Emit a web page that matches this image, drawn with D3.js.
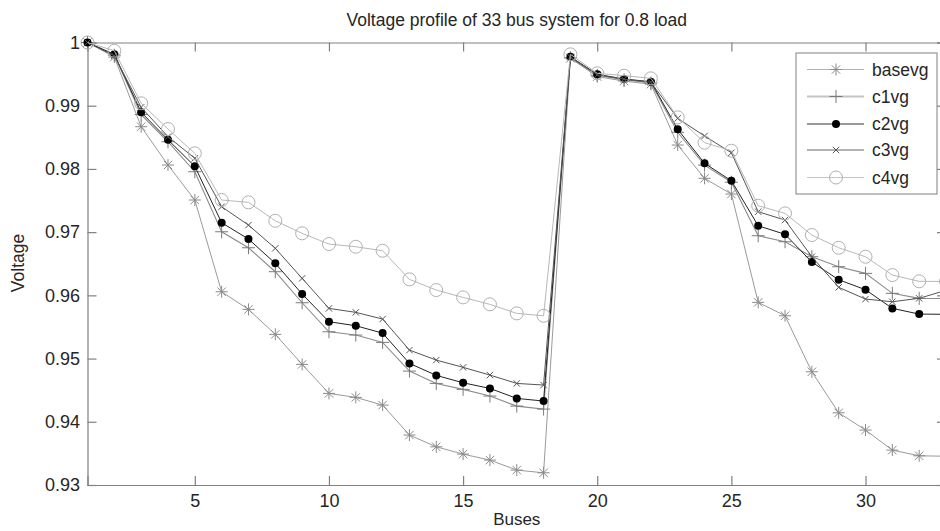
<!DOCTYPE html>
<html>
<head>
<meta charset="utf-8">
<script src="https://cdn.jsdelivr.net/npm/d3@7"></script>
<style>
  body { margin: 0; background: #fff; }
  svg { display: block; font-family: "Liberation Sans", Arial, Helvetica, sans-serif; }
</style>
</head>
<body>
<svg id="chart" width="940" height="531"></svg>
<script>
const buses = d3.range(1, 34);
const basevg = [1.0, 0.9977, 0.98668, 0.98062, 0.97508, 0.96057, 0.95778, 0.95383, 0.94908, 0.94449, 0.94386, 0.94264, 0.9379, 0.93604, 0.93489, 0.93394, 0.93236, 0.93193, 0.9975, 0.9946, 0.9939, 0.9934, 0.98378, 0.97851, 0.97603, 0.95889, 0.95677, 0.94791, 0.94142, 0.93869, 0.93552, 0.93462, 0.93455];
const c1vg = [1.0, 0.9980, 0.9886, 0.9843, 0.97956, 0.97006, 0.96753, 0.96374, 0.95883, 0.95424, 0.95372, 0.95256, 0.94802, 0.94607, 0.94513, 0.94407, 0.94248, 0.94201, 0.9976, 0.9948, 0.9941, 0.9936, 0.9858, 0.9806, 0.9779, 0.96943, 0.96848, 0.96611, 0.96453, 0.96348, 0.96032, 0.95953, 0.9595];
const c2vg = [1.0, 0.99813, 0.98896, 0.98462, 0.98041, 0.97149, 0.96891, 0.96506, 0.96021, 0.95583, 0.95519, 0.95403, 0.94924, 0.94734, 0.94617, 0.94528, 0.9437, 0.94328, 0.99775, 0.99497, 0.99422, 0.9938, 0.98626, 0.98089, 0.97813, 0.97101, 0.96965, 0.96527, 0.96247, 0.96089, 0.95794, 0.95704, 0.957];
const c3vg = [1.0, 0.9979, 0.98975, 0.9851, 0.98168, 0.97402, 0.97112, 0.96744, 0.96269, 0.95794, 0.95731, 0.95625, 0.95134, 0.94976, 0.94861, 0.94739, 0.94607, 0.94581, 0.9977, 0.9949, 0.9942, 0.9937, 0.988, 0.98521, 0.98256, 0.97323, 0.97191, 0.96611, 0.96127, 0.95941, 0.95899, 0.95953, 0.9608];
const c4vg = [1.0, 0.9987, 0.99038, 0.98631, 0.98247, 0.97508, 0.97471, 0.9718, 0.96981, 0.96812, 0.96769, 0.96706, 0.96253, 0.96084, 0.95968, 0.95858, 0.95715, 0.95677, 0.99813, 0.99513, 0.99475, 0.99433, 0.98816, 0.98415, 0.98288, 0.97418, 0.97297, 0.96954, 0.96753, 0.96611, 0.96321, 0.96222, 0.9622];
const seriesNames = ["basevg", "c1vg", "c2vg", "c3vg", "c4vg"];
const xTicks = [5, 10, 15, 20, 25, 30];
const yTicks = [0.93, 0.94, 0.95, 0.96, 0.97, 0.98, 0.99, 1];
const yTickLabels = ["0.93", "0.94", "0.95", "0.96", "0.97", "0.98", "0.99", "1"];

const styles = {
  basevg: { color: "#9a9a9a", width: 1, marker: "asterisk", mcolor: "#8a8a8a", legColor: "#b0b0b0", legWidth: 1 },
  c1vg:   { color: "#8c8c8c", width: 1.1, marker: "plus", mcolor: "#7a7a7a", legColor: "#c4c4c4", legWidth: 2.2 },
  c2vg:   { color: "#222", width: 1, marker: "dot", mcolor: "#000", legColor: "#333", legWidth: 1 },
  c3vg:   { color: "#555", width: 1, marker: "x", mcolor: "#555", legColor: "#666", legWidth: 1 },
  c4vg:   { color: "#b8b8b8", width: 1, marker: "circle", mcolor: "#b0b0b0", legColor: "#c4c4c4", legWidth: 1 }
};
const dataMap = { basevg, c1vg, c2vg, c3vg, c4vg };

const svg = d3.select("#chart");
const L = 87.5, R = 946, T = 42.5, B = 485;
const x = d3.scaleLinear().domain([1, 33]).range([L, R]);
const y = d3.scaleLinear().domain([0.93, 1]).range([B, T]);

const axisColor = "#808080";
const tickLen = 9;
const textColor = "#262626";
const fontFam = "'Liberation Sans', Arial, sans-serif";

// Axes
const gx = svg.append("g").attr("transform", `translate(0,${B})`)
  .call(d3.axisBottom(x).tickValues(xTicks).tickSize(-tickLen).tickPadding(9).tickFormat(d3.format("d")));
const gxt = svg.append("g").attr("transform", `translate(0,${T})`)
  .call(d3.axisTop(x).tickValues(xTicks).tickSize(-tickLen).tickFormat(""));
const gy = svg.append("g").attr("transform", `translate(${L},0)`)
  .call(d3.axisLeft(y).tickValues(yTicks).tickSize(-tickLen).tickPadding(7.5).tickFormat((d, i) => yTickLabels[i]));
const gyr = svg.append("g").attr("transform", `translate(${R},0)`)
  .call(d3.axisRight(y).tickValues(yTicks).tickSize(-tickLen).tickFormat(""));
[gx, gxt, gy, gyr].forEach(g => {
  g.select(".domain").attr("stroke", axisColor).attr("stroke-width", 1.2);
  g.selectAll(".tick line").attr("stroke", axisColor).attr("stroke-width", 1.2);
  g.selectAll(".tick text").attr("fill", textColor).style("font-size", "18px")
    .style("font-family", fontFam);
});

// Clip
svg.append("clipPath").attr("id", "clip").append("rect")
  .attr("x", L - 10).attr("y", T - 10).attr("width", R - L + 20).attr("height", B - T + 20);

const plot = svg.append("g").attr("clip-path", "url(#clip)");

function drawMarker(g, type, cx, cy, color) {
  if (type === "asterisk") {
    const s = 6;
    g.append("path").attr("d",
      `M${cx - s},${cy}L${cx + s},${cy}M${cx},${cy - s}L${cx},${cy + s}` +
      `M${cx - s * 0.7},${cy - s * 0.7}L${cx + s * 0.7},${cy + s * 0.7}M${cx - s * 0.7},${cy + s * 0.7}L${cx + s * 0.7},${cy - s * 0.7}`)
      .attr("stroke", color).attr("stroke-width", 1).attr("fill", "none");
  } else if (type === "plus") {
    const s = 6.5;
    g.append("path").attr("d", `M${cx - s},${cy}L${cx + s},${cy}M${cx},${cy - s}L${cx},${cy + s}`)
      .attr("stroke", color).attr("stroke-width", 1).attr("fill", "none");
  } else if (type === "dot") {
    g.append("circle").attr("cx", cx).attr("cy", cy).attr("r", 4).attr("fill", color);
  } else if (type === "x") {
    const s = 3.2;
    g.append("path").attr("d", `M${cx - s},${cy - s}L${cx + s},${cy + s}M${cx - s},${cy + s}L${cx + s},${cy - s}`)
      .attr("stroke", color).attr("stroke-width", 1).attr("fill", "none");
  } else if (type === "circle") {
    g.append("circle").attr("cx", cx).attr("cy", cy).attr("r", 6.5)
      .attr("fill", "none").attr("stroke", color).attr("stroke-width", 1);
  }
}

const line = d3.line().x((d, i) => x(buses[i])).y(d => y(d));
seriesNames.forEach(name => {
  const st = styles[name];
  const vals = dataMap[name];
  const g = plot.append("g");
  g.append("path").datum(vals).attr("d", line)
    .attr("fill", "none").attr("stroke", st.color).attr("stroke-width", st.width);
  vals.forEach((v, i) => drawMarker(g, st.marker, x(buses[i]), y(v), st.mcolor));
});

// Title & labels
svg.append("text").attr("x", (L + R) / 2).attr("y", 26).attr("text-anchor", "middle")
  .style("font-size", "17.5px").attr("fill", textColor).text("Voltage profile of 33 bus system for 0.8 load");
svg.append("text").attr("x", (L + R) / 2).attr("y", 525).attr("text-anchor", "middle")
  .style("font-size", "17px").attr("fill", textColor).text("Buses");
svg.append("text").attr("transform", `translate(24,263) rotate(-90)`).attr("text-anchor", "middle")
  .style("font-size", "17.5px").attr("fill", textColor).text("Voltage");

// Legend
const lg = svg.append("g");
lg.append("rect").attr("x", 796).attr("y", 53).attr("width", 141).attr("height", 141)
  .attr("fill", "#fff").attr("stroke", axisColor).attr("stroke-width", 1);
const legY = [69.5, 96.5, 124, 150, 177.5];
seriesNames.forEach((name, i) => {
  const st = styles[name];
  const ly = legY[i];
  lg.append("line").attr("x1", 807).attr("x2", 864).attr("y1", ly).attr("y2", ly)
    .attr("stroke", st.legColor).attr("stroke-width", st.legWidth);
  drawMarker(lg, st.marker, 836, ly, st.mcolor);
  lg.append("text").attr("x", 872).attr("y", ly + 6).style("font-size", "17.5px")
    .attr("fill", textColor).text(name);
});
</script>
</body>
</html>
